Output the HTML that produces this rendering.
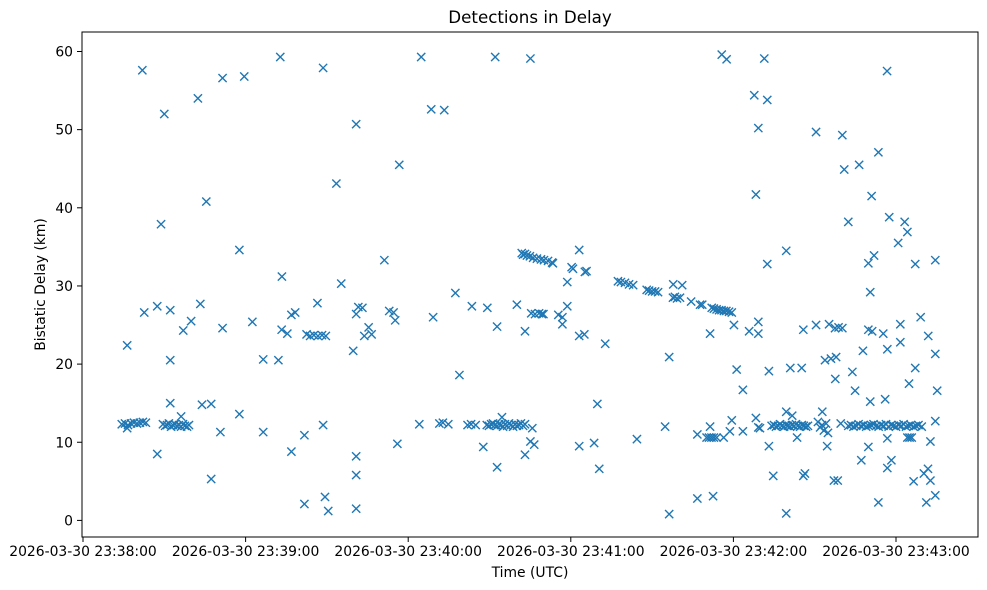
<!DOCTYPE html>
<html><head><meta charset="utf-8"><style>
html,body{margin:0;padding:0;background:#fff;}
svg{display:block;font-family:"DejaVu Sans","Liberation Sans",sans-serif;}
</style></head><body>
<svg id="chart" width="987" height="590" viewBox="0 0 987 590">
<rect x="0" y="0" width="987" height="590" fill="#fff"/>
<text x="530" y="23" font-size="16.7" text-anchor="middle">Detections in Delay</text>
<g id="marks"></g>
<g id="axes"></g>
<rect x="82" y="32" width="896" height="505" fill="none" stroke="#000" stroke-width="1"/>
<text x="530" y="577" font-size="13.9" text-anchor="middle">Time (UTC)</text>
<text transform="translate(45,284.5) rotate(-90)" font-size="13.9" text-anchor="middle">Bistatic Delay (km)</text>
</svg>
<script>
// seconds after 23:38:00
const times = [21.9,30.0,42.4,51.5,59.5,72.8,88.6,45.5,28.8,57.7,73.4,22.6,27.4,32.2,43.3,37.0,39.9,51.5,62.5,73.3,76.9,78.3,75.4,86.5,
82.5,83.8,85.2,86.7,88.2,89.6,16.3,32.2,66.5,72.1,32.2,43.9,47.3,36.2,57.7,
14.3,15.5,16.6,17.7,18.8,19.9,21.0,22.1,23.2,16.3,
29.5,30.3,31.0,31.7,32.5,33.2,33.9,34.7,35.4,36.2,36.9,37.6,38.4,39.1,
50.7,66.5,81.7,88.6,27.4,76.9,47.3,81.7,89.3,90.5,
124.8,152.1,165.1,128.5,133.3,100.8,116.7,93.5,111.2,95.3,100.8,101.6,103.1,105.4,103.8,106.5,113.0,114.6,115.2,129.2,99.7,137.4,143.5,149.2,152.8,160.1,163.1,165.4,166.8,168.3,169.9,138.9,
161.9,162.4,163.1,163.8,164.9,166.1,167.5,169.0,170.1,171.6,173.1,
124.1,131.5,132.8,134.8,141.9,143.2,144.9,
149.0,149.8,150.6,151.3,152.0,152.8,153.5,154.2,155.0,155.7,156.5,157.2,157.9,158.7,159.4,160.1,160.9,161.6,162.4,163.1,
154.6,165.8,116.0,147.7,165.1,166.5,163.1,152.8,100.8,100.8,100.8,
173.4,183.1,180.3,180.8,185.2,185.8,178.7,197.4,198.5,200.0,201.5,203.0,208.0,208.9,210.0,211.1,212.2,217.8,221.1,217.7,218.4,219.2,220.3,224.4,227.7,228.5,
232.0,232.8,233.8,234.7,235.6,236.5,237.4,238.4,239.4,240.2,245.8,249.2,249.2,169.3,175.4,176.9,176.9,178.7,183.1,185.0,192.7,231.4,216.3,241.2,243.5,189.8,183.1,188.6,190.5,204.4,214.8,226.7,231.4,
230.1,231.0,231.9,232.8,233.8,236.4,238.7,239.4,243.5,248.3,249.2,216.3,226.7,232.5,235.7,237.5,247.7,249.2,248.3,
251.4,252.5,270.5,280.2,296.7,293.5,280.9,286.4,291.0,282.4,297.5,303.2,304.2,300.8,259.5,252.5,289.8,291.9,307.1,314.5,290.5,
265.8,270.5,275.3,277.5,278.8,280.2,289.8,291.2,295.3,301.6,309.1,311.9,301.6,296.8,287.8,314.5,273.8,276.0,277.9,253.1,261.0,265.2,277.6,283.9,307.1,304.8,284.9,315.2,290.5,296.0,259.5,261.7,272.8,249.8,
254.1,255.0,255.7,256.5,257.2,257.9,258.7,259.4,260.1,260.9,261.6,262.4,263.1,263.8,264.6,265.3,266.0,266.8,267.5,
271.2,272.0,272.7,273.4,274.2,274.9,279.6,
282.4,283.4,284.3,285.3,286.2,287.1,288.0,289.0,289.9,290.8,291.7,292.7,293.6,294.5,295.4,296.3,297.3,298.2,299.1,300.0,301.0,301.9,302.8,303.7,304.6,305.5,306.5,307.4,308.3,309.5,
314.5,253.1,263.5,274.6,289.8,296.8,304.2,305.0,305.8,312.7,254.7,265.8,266.4,277.1,278.5,287.2,296.8,298.3,306.5,310.3,311.8,312.7,259.5,293.5,311.2,314.5];
// km
const delays = [57.6,52.0,54.0,56.6,56.8,59.3,57.9,40.8,37.9,34.6,31.2,26.6,27.4,26.9,27.7,24.3,25.5,24.6,25.4,24.4,26.3,26.6,23.9,27.8,
23.8,23.6,23.7,23.6,23.7,23.6,22.4,20.5,20.6,20.5,15.0,14.8,14.9,13.3,13.6,
12.3,12.4,12.2,12.4,12.5,12.4,12.5,12.6,12.5,11.8,
12.3,12.1,12.2,12.4,12.0,12.2,12.3,12.1,12.2,12.0,12.3,12.1,12.0,12.2,
11.3,11.3,10.9,12.2,8.5,8.8,5.3,2.1,3.0,1.2,
59.3,59.3,59.1,52.6,52.5,50.7,45.5,43.1,33.3,30.3,26.4,27.3,27.2,24.7,23.6,23.8,26.8,26.6,25.6,26.0,21.7,29.1,27.4,27.2,24.8,27.6,24.2,26.5,26.4,26.5,26.4,18.6,
34.2,34.0,34.1,33.9,33.8,33.6,33.5,33.4,33.3,33.2,33.0,
12.3,12.4,12.5,12.3,12.2,12.3,12.2,
12.2,12.1,12.3,12.4,12.2,12.1,12.3,12.2,12.0,12.3,12.1,12.4,12.2,12.0,12.3,12.1,12.2,12.4,12.1,12.3,
13.2,11.8,9.8,9.4,10.1,9.7,8.4,6.8,8.2,5.8,1.5,
32.9,34.6,32.4,32.2,31.8,31.9,30.5,30.6,30.5,30.4,30.2,30.1,29.5,29.4,29.3,29.3,29.2,30.2,30.1,28.5,28.6,28.4,28.5,28.0,27.6,27.6,
27.2,27.1,27.0,26.9,26.9,26.8,26.8,26.7,26.6,25.0,24.2,25.4,23.9,26.4,26.3,26.0,25.1,27.4,23.6,23.8,22.6,23.9,20.9,19.3,16.7,14.9,9.5,9.9,6.6,10.4,12.0,11.0,12.0,
10.6,10.6,10.6,10.6,10.6,10.6,11.4,12.8,11.4,13.1,11.9,0.8,2.8,3.1,59.6,59.0,54.4,50.2,41.7,
59.1,53.8,49.7,49.3,57.5,47.1,44.9,45.5,41.5,38.2,38.8,38.2,36.9,35.5,34.5,32.8,32.9,33.9,32.8,33.3,29.2,
24.4,25.0,25.1,24.6,24.7,24.6,24.4,24.2,23.9,25.1,26.0,23.6,22.8,21.9,21.7,21.3,20.5,20.7,20.9,19.1,19.5,19.5,18.1,19.0,19.5,17.5,16.6,16.6,15.2,15.5,13.9,13.4,13.9,11.8,
12.1,12.2,12.0,12.1,12.3,12.1,12.0,12.2,12.1,12.0,12.2,12.1,12.3,12.1,12.0,12.2,12.1,12.0,12.1,
12.6,11.9,12.2,11.5,12.4,11.2,12.4,
12.1,12.2,12.0,12.1,12.3,12.1,12.2,12.0,12.1,12.2,12.3,12.1,12.0,12.2,12.1,12.3,12.0,12.2,12.1,12.0,12.2,12.1,12.3,12.0,12.1,12.2,12.0,12.1,12.2,12.0,
12.7,9.5,10.6,9.5,9.4,10.5,10.6,10.6,10.6,10.1,5.7,5.7,6.0,5.1,5.1,7.7,6.7,7.7,5.0,6.0,6.6,5.1,0.9,2.3,2.3,3.2];
const xTickLabels = ["2026-03-30 23:38:00","2026-03-30 23:39:00","2026-03-30 23:40:00","2026-03-30 23:41:00","2026-03-30 23:42:00","2026-03-30 23:43:00"];
const xTickSeconds = [0,60,120,180,240,300];
const yTickValues = [0,10,20,30,40,50,60];

const NS = "http://www.w3.org/2000/svg";
function xScale(s){ return 83 + s * (162.6/60); }
function yScale(km){ return 520.4 - km * 7.815; }

const marks = document.getElementById('marks');
for (let i = 0; i < times.length; i++) {
  const cx = xScale(times[i]), cy = yScale(delays[i]), r = 4.1;
  const p = document.createElementNS(NS, 'path');
  p.setAttribute('d', `M${cx-r},${cy-r}L${cx+r},${cy+r}M${cx-r},${cy+r}L${cx+r},${cy-r}`);
  p.setAttribute('stroke', '#1f77b4');
  p.setAttribute('stroke-width', '1.4');
  p.setAttribute('fill', 'none');
  
  
  marks.appendChild(p);
}
const axes = document.getElementById('axes');
for (let i = 0; i < xTickSeconds.length; i++) {
  const x = xScale(xTickSeconds[i]);
  const l = document.createElementNS(NS, 'line');
  l.setAttribute('x1', x); l.setAttribute('x2', x); l.setAttribute('y1', 537); l.setAttribute('y2', 542);
  l.setAttribute('stroke', '#000');
  
  
  axes.appendChild(l);
  const t = document.createElementNS(NS, 'text');
  t.setAttribute('x', x); t.setAttribute('y', 556); t.setAttribute('font-size', '13.9'); t.setAttribute('text-anchor', 'middle');
  t.textContent = xTickLabels[i];
  
  
  axes.appendChild(t);
}
for (let i = 0; i < yTickValues.length; i++) {
  const y = yScale(yTickValues[i]);
  const l = document.createElementNS(NS, 'line');
  l.setAttribute('x1', 77); l.setAttribute('x2', 82); l.setAttribute('y1', y); l.setAttribute('y2', y);
  l.setAttribute('stroke', '#000');
  
  
  axes.appendChild(l);
  const t = document.createElementNS(NS, 'text');
  t.setAttribute('x', 73); t.setAttribute('y', y + 5); t.setAttribute('font-size', '13.9'); t.setAttribute('text-anchor', 'end');
  t.textContent = String(yTickValues[i]);
  
  
  axes.appendChild(t);
}
</script>
</body></html>
